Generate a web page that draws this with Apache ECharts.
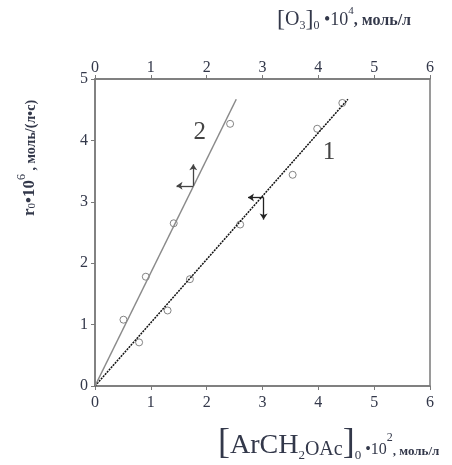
<!DOCTYPE html>
<html>
<head>
<meta charset="utf-8">
<script src="https://cdn.jsdelivr.net/npm/echarts@6/dist/echarts.min.js"></script>
<style>
  html, body { margin: 0; padding: 0; background: #fff; }
  #chart { width: 452px; height: 465px; }
</style>
</head>
<body>
<div id="chart"></div>
<script>
// curve 1: r0 vs [ArCH2OAc]0 (bottom axis)
const acetateX = [0.79, 1.30, 1.70, 2.60, 3.54, 3.98, 4.43]
const rate1 = [0.71, 1.23, 1.74, 2.63, 3.44, 4.19, 4.61]
const fit1X = [0, 4.53]
const fit1Y = [0, 4.67]

// curve 2: r0 vs [O3]0 (top axis)
const ozoneX = [0.51, 0.91, 1.41, 2.42]
const rate2 = [1.08, 1.78, 2.65, 4.27]
const fit2X = [0, 2.53]
const fit2Y = [0, 4.67]

const xTicks = [0, 1, 2, 3, 4, 5, 6]
const yTicks = [0, 1, 2, 3, 4, 5]

const serif = '"Liberation Serif", "DejaVu Serif", serif'
const axisColor = '#7a7a7a'
const textColor = '#33384a'

const zip = (xs, ys) => xs.map((x, i) => [x, ys[i]])

// rich text piece helper, everything bottom aligned, raised with padding
const piece = (size, raise = 0, bold = false) => ({
  fontFamily: serif,
  fontSize: size,
  fontWeight: bold ? 'bold' : 'normal',
  fill: textColor,
  verticalAlign: 'bottom',
  padding: [0, 0, raise, 0],
})

const xAxisBase = {
  type: 'value',
  min: xTicks[0],
  max: xTicks[xTicks.length - 1],
  interval: 1,
  splitLine: { show: false },
  axisLine: { show: true, onZero: false, lineStyle: { color: axisColor, width: 1.5 } },
  axisTick: { show: true, length: 4, lineStyle: { color: axisColor } },
  axisLabel: { color: textColor, fontFamily: serif, fontSize: 16 },
}

const chart = echarts.init(document.getElementById('chart'))

chart.setOption({
  animation: false,
  grid: {
    left: 95, right: 22, top: 79, bottom: 79,
    show: true, borderColor: axisColor, borderWidth: 1.5,
  },
  xAxis: [
    { ...xAxisBase, position: 'bottom', axisLabel: { ...xAxisBase.axisLabel, margin: 9 } },
    { ...xAxisBase, position: 'top', axisLabel: { ...xAxisBase.axisLabel, margin: 3 } },
  ],
  yAxis: {
    type: 'value',
    min: yTicks[0],
    max: yTicks[yTicks.length - 1],
    interval: 1,
    splitLine: { show: false },
    axisLine: { show: true, lineStyle: { color: axisColor, width: 1.5 } },
    axisTick: { show: true, length: 4, lineStyle: { color: axisColor } },
    axisLabel: { color: textColor, fontFamily: serif, fontSize: 16, margin: 7 },
  },
  series: [
    {
      name: 'fit1',
      type: 'line',
      xAxisIndex: 0,
      data: zip(fit1X, fit1Y),
      showSymbol: false,
      lineStyle: { color: '#111', width: 1.5, type: [2, 1] },
      markLine: {
        silent: true,
        symbol: ['none', 'arrow'],
        symbolSize: 6,
        label: { show: false },
        lineStyle: { color: '#222', width: 1.3, type: 'solid' },
        data: [
          [{ coord: [3.02, 3.07] }, { coord: [2.74, 3.07] }],
          [{ coord: [3.02, 3.07] }, { coord: [3.02, 2.71] }],
        ],
      },
      markPoint: {
        silent: true,
        symbolSize: 1,
        itemStyle: { color: 'transparent' },
        label: { show: true, formatter: '1', color: '#444', fontFamily: serif, fontSize: 25 },
        data: [{ coord: [4.19, 3.79] }],
      },
    },
    {
      name: 'fit2',
      type: 'line',
      xAxisIndex: 1,
      data: zip(fit2X, fit2Y),
      showSymbol: false,
      lineStyle: { color: '#8a8a8a', width: 1.5 },
      markLine: {
        silent: true,
        symbol: ['none', 'arrow'],
        symbolSize: 6,
        label: { show: false },
        lineStyle: { color: '#444', width: 1.3, type: 'solid' },
        data: [
          [{ coord: [1.76, 3.26] }, { coord: [1.46, 3.26] }],
          [{ coord: [1.76, 3.26] }, { coord: [1.76, 3.61] }],
        ],
      },
      markPoint: {
        silent: true,
        symbolSize: 1,
        itemStyle: { color: 'transparent' },
        label: { show: true, formatter: '2', color: '#444', fontFamily: serif, fontSize: 25 },
        data: [{ coord: [1.875, 4.12] }],
      },
    },
    {
      name: 'curve1',
      type: 'scatter',
      xAxisIndex: 0,
      data: zip(acetateX, rate1),
      symbol: 'circle',
      symbolSize: 7,
      itemStyle: { color: '#fff', borderColor: '#666', borderWidth: 1 },
    },
    {
      name: 'curve2',
      type: 'scatter',
      xAxisIndex: 1,
      data: zip(ozoneX, rate2),
      symbol: 'circle',
      symbolSize: 7,
      itemStyle: { color: '#fff', borderColor: '#666', borderWidth: 1 },
    },
  ],
  graphic: [
    {
      type: 'text',
      left: 277,
      top: 6,
      style: {
        text: '{br|[}{t|O}{sub|3}{br|]}{sub|0}{s| •10}{sup|4}{u|, моль/л}',
        rich: {
          br: piece(24),
          t: piece(20, 2),
          sub: piece(12),
          s: piece(18, 3),
          sup: piece(11, 15),
          u: piece(16, 3, true),
        },
      },
    },
    {
      type: 'text',
      left: 218,
      top: 426,
      style: {
        text: '{br|[}{t|ArCH}{sub|2}{m|OAc}{br|]}{sub|0}{s| •10}{sup|2}{u|, моль/л}',
        rich: {
          br: piece(36),
          t: piece(28, 2),
          sub: piece(13),
          m: piece(20, 2),
          s: piece(16, 4),
          sup: piece(12, 18),
          u: piece(13, 4, true),
        },
      },
    },
    {
      type: 'text',
      x: 27,
      y: 158,
      rotation: Math.PI / 2,
      style: {
        text: '{t|r}{sub|0}{t|•10}{sup|6}{u| , моль/(л•с)}',
        align: 'center',
        verticalAlign: 'middle',
        rich: {
          t: piece(17, 0, true),
          sub: piece(11),
          sup: piece(12, 10),
          u: piece(14, 0, true),
        },
      },
    },
  ],
})
</script>
</body>
</html>
